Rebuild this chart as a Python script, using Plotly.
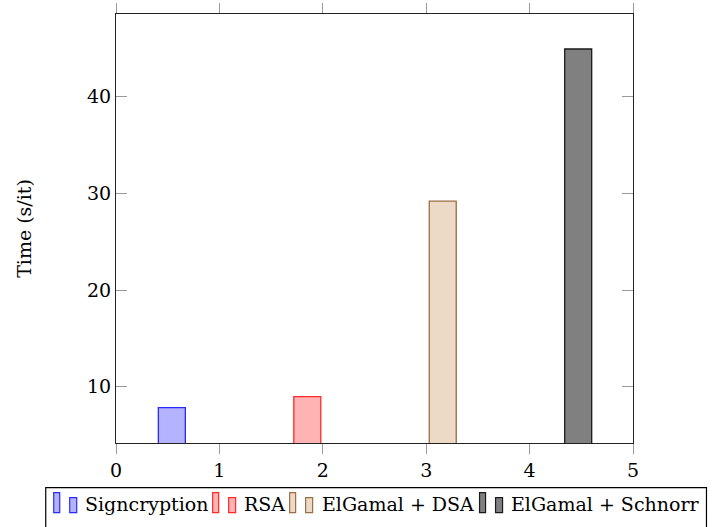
import plotly.graph_objects as go

# ---- data ----
series = ["Signcryption", "RSA", "ElGamal + DSA", "ElGamal + Schnorr"]
x_vals = [1, 2, 3, 4]
times = [7.83, 8.97, 29.2, 44.93]
x_ticks = [0, 1, 2, 3, 4, 5]
y_ticks = [10, 20, 30, 40]

# ---- style ----
fills = ["#b3b3ff", "#ffb3b3", "#ecd9c6", "#808080"]
edges = ["#2a2aff", "#ff2a2a", "#9a6e44", "#1a1a1a"]
FONT = "DejaVu Serif"
FS = 19
BAR_W = 0.261
PITCH = 0.31
shifts = [PITCH * (i - 1.5) + 0.005 for i in range(4)]

W, H = 715, 527
PL, PR, PT, PB = 116.3, 633.5, 14.0, 443.3


def px(x):
    return (x - PL) / (PR - PL)


def py(y):
    return (PB - y) / (PB - PT)


fig = go.Figure()
for name, xv, t, fc, ec, sh in zip(series, x_vals, times, fills, edges, shifts):
    fig.add_trace(go.Bar(
        x=[xv], y=[t], name=name, width=BAR_W, offset=sh - BAR_W / 2,
        marker=dict(color=fc, line=dict(color=ec, width=1.3)),
        showlegend=False,
    ))

# ---- custom pgfplots-like legend ----
leg_icon_x = [54, 213, 290, 480]
leg_text_x = [83.5, 242.7, 320.0, 509.5]
shapes = [dict(type="rect", xref="paper", yref="paper",
               x0=px(46), x1=px(707), y0=py(540), y1=py(488),
               line=dict(color="black", width=1.2), fillcolor="white", layer="below")]
annotations = []
for name, fc, ec, ix, tx in zip(series, fills, edges, leg_icon_x, leg_text_x):
    shapes.append(dict(type="rect", xref="paper", yref="paper",
                       x0=px(ix), x1=px(ix + 6), y0=py(513), y1=py(493),
                       line=dict(color=ec, width=1.2), fillcolor=fc))
    shapes.append(dict(type="rect", xref="paper", yref="paper",
                       x0=px(ix + 16), x1=px(ix + 23), y0=py(513), y1=py(498),
                       line=dict(color=ec, width=1.2), fillcolor=fc))
    annotations.append(dict(text=name, xref="paper", yref="paper",
                            x=px(tx), y=py(504), xanchor="left", yanchor="middle",
                            showarrow=False, font=dict(family=FONT, size=FS, color="black")))

fig.update_layout(
    width=W, height=H,
    margin=dict(l=116, r=82, t=14, b=84, autoexpand=False),
    paper_bgcolor="white", plot_bgcolor="white",
    font=dict(family=FONT, size=FS, color="black"),
    barmode="overlay",
    shapes=shapes, annotations=annotations,
)
fig.update_xaxes(
    range=[0, 5], tickvals=x_ticks, ticktext=[str(v) for v in x_ticks],
    ticks="outside", ticklen=10, tickcolor="#9a9a9a", tickwidth=1,
    showline=True, linecolor="#222222", linewidth=1.2, mirror="ticks",
    showgrid=False, zeroline=False, automargin=False,
)
fig.update_yaxes(
    range=[4.18, 48.55], tickvals=y_ticks, ticktext=[str(v) for v in y_ticks],
    ticks="inside", ticklen=11, tickcolor="#9a9a9a", tickwidth=1,
    showline=True, linecolor="#222222", linewidth=1.2, mirror="ticks",
    showgrid=False, zeroline=False, automargin=False,
    title=dict(text="Time (s/it)", font=dict(family=FONT, size=FS), standoff=50),
)

fig.write_html("out.html")
